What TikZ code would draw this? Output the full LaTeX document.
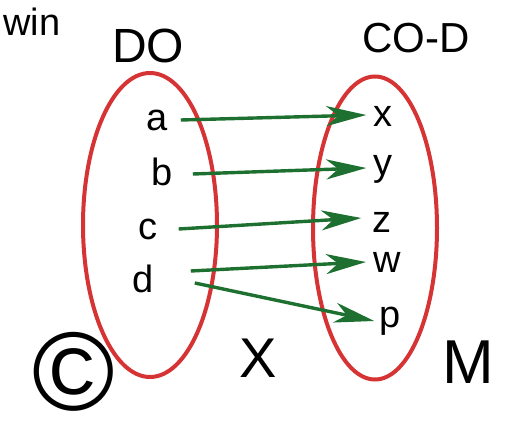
\documentclass[tikz,border=0pt]{standalone}
\usepackage{fontspec}
\setmainfont{Liberation Sans}
\usepackage{xcolor}
\usetikzlibrary{shapes.geometric,arrows.meta}

\definecolor{setred}{RGB}{214,52,52}
\definecolor{mapgreen}{RGB}{30,112,48}

\tikzset{
  setoval/.style={ellipse, draw=setred, line width=4pt, inner sep=0pt},
  elem/.style={inner sep=5pt, font=\fontsize{38}{40}\selectfont},
  mapsto/.style={draw=mapgreen, line width=3.4pt,
    -{Stealth[length=40pt,width=20pt,inset=12pt]}},
  hand/.style={inner sep=0pt, font=\fontsize{38}{40}\selectfont}
}

\begin{document}
\begin{tikzpicture}[x=1pt,y=-1pt]
\useasboundingbox (0,0) rectangle (514,433);

% the two sets
\node[setoval, minimum width=134pt, minimum height=304pt] (dom) at (150,225) {};
\node[setoval, minimum width=124pt, minimum height=303pt] (codom) at (375,228) {};

% elements
\node[elem] (a) at (157,120) {a};
\node[elem] (b) at (162,172) {b};
\node[elem] (c) at (148,229) {c};
\node[elem] (d) at (143,279) {d};

\node[elem] (x) at (383,116) {x};
\node[elem] (y) at (383,169) {y};
\node[elem] (z) at (382,222) {z};
\node[elem] (w) at (387,262) {w};
\node[elem] (p) at (390,321) {p};

% the mapping
\draw[mapsto] (a.east) ++(8pt,0) -- ([xshift=-2pt,yshift=1pt]x.west);
\draw[mapsto] (b.east) ++(15pt,-2pt) -- ([xshift=-2pt,yshift=1pt]y.west);
\draw[mapsto] (c.east) ++(16pt,0) -- ([xshift=-6pt,yshift=4pt]z.west);
\draw[mapsto] ([yshift=8pt]d.east) ++(32pt,0) -- ([xshift=-2pt]w.west);
\draw[mapsto] ([yshift=-4pt]d.east) ++(36pt,0) -- ([xshift=0pt,yshift=0pt]p.west);

% handwritten notes
\node[hand] (win) at (32,22) {win};
\node[hand, font=\fontsize{48}{50}\selectfont] (DO) at (148,46) {DO};
\node[hand, font=\fontsize{42}{44}\selectfont] (CoD) at (416,38) {CO-D};
\node[hand, font=\fontsize{112}{114}\selectfont] (copy) at (74,372) {©};
\node[hand, font=\fontsize{56}{58}\selectfont] (X) at (258,358) {X};
\node[hand, font=\fontsize{62}{64}\selectfont] (M) at (468,362) {M};
\end{tikzpicture}
\end{document}
